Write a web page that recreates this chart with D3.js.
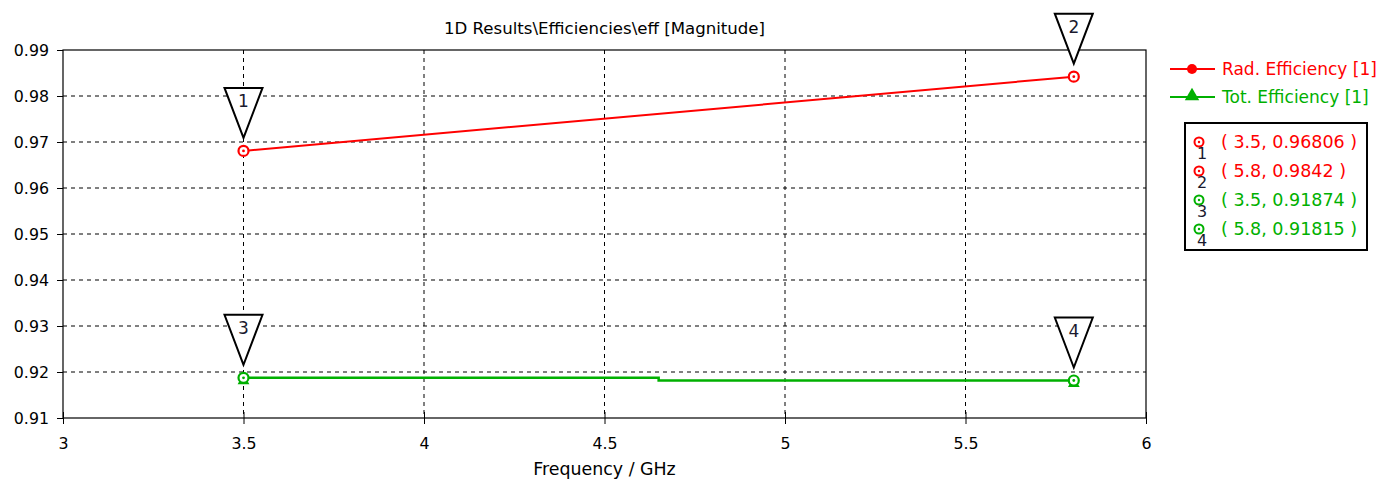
<!DOCTYPE html>
<html>
<head>
<meta charset="utf-8">
<script src="https://cdn.jsdelivr.net/npm/d3@7"></script>
<style>
  body { margin: 0; background: #fff; }
  text { font-family: "DejaVu Sans", sans-serif; }
</style>
</head>
<body>
<svg id="chart"></svg>
<script>
// data
const radFreq = [3.5, 5.8];
const radEff = [0.96806, 0.9842];
const totFreq = [3.5, 4.65, 4.65, 5.8];
const totEff = [0.91874, 0.91874, 0.91815, 0.91815];
const seriesNames = ["Rad. Efficiency [1]", "Tot. Efficiency [1]"];
const seriesColors = ["#ff0000", "#00b000"];
const markerIds = [1, 2, 3, 4];
const markerFreq = [3.5, 5.8, 3.5, 5.8];
const markerVals = [0.96806, 0.9842, 0.91874, 0.91815];
const markerLabels = ["( 3.5, 0.96806 )", "( 5.8, 0.9842 )", "( 3.5, 0.91874 )", "( 5.8, 0.91815 )"];
const markerColors = ["#ff0000", "#ff0000", "#00b000", "#00b000"];
const xTicks = [3, 3.5, 4, 4.5, 5, 5.5, 6];
const yTicks = [0.91, 0.92, 0.93, 0.94, 0.95, 0.96, 0.97, 0.98, 0.99];

const W = 1393, H = 479;
const margin = {top: 50, right: 247, bottom: 61, left: 63};
const width = W - margin.left - margin.right;
const height = H - margin.top - margin.bottom;

const svg = d3.select("#chart").attr("width", W).attr("height", H);
const g = svg.append("g").attr("transform", "translate(" + margin.left + "," + margin.top + ")");

const x = d3.scaleLinear().domain([3, 6]).range([0, width]);
const y = d3.scaleLinear().domain([0.91, 0.99]).range([height, 0]);

// grid
g.append("g").selectAll("line")
  .data(xTicks.slice(1, -1)).enter().append("line")
  .attr("x1", d => x(d)).attr("x2", d => x(d))
  .attr("y1", 0).attr("y2", height)
  .attr("stroke", "#000").attr("stroke-dasharray", "4,4").attr("stroke-width", 1);
g.append("g").selectAll("line")
  .data(yTicks.slice(1, -1)).enter().append("line")
  .attr("x1", 0).attr("x2", width)
  .attr("y1", d => y(d)).attr("y2", d => y(d))
  .attr("stroke", "#000").attr("stroke-dasharray", "4,4").attr("stroke-width", 1);

// frame
g.append("rect").attr("x", 0).attr("y", 0).attr("width", width).attr("height", height)
  .attr("fill", "none").attr("stroke", "#000").attr("stroke-width", 1.2);

// axes
const xAxis = g.append("g").attr("transform", "translate(0," + height + ")")
  .call(d3.axisBottom(x).tickValues(xTicks).tickFormat(d3.format("")).tickSize(6).tickPadding(14));
const yAxis = g.append("g")
  .call(d3.axisLeft(y).tickValues(yTicks).tickFormat(d3.format(".2f")).tickSize(6).tickPadding(8));
[xAxis, yAxis].forEach(a => {
  a.select(".domain").remove();
  a.selectAll("text").attr("font-size", 15.8).attr("fill", "#000")
    .style("font-family", '"DejaVu Sans", sans-serif');
});
xAxis.selectAll(".tick line").attr("y1", -6).attr("y2", 6);
yAxis.selectAll(".tick line").attr("x1", -6).attr("x2", 0);

// title & axis label
svg.append("text").attr("x", margin.left + width / 2).attr("y", 34)
  .attr("text-anchor", "middle").attr("font-size", 16.6).attr("fill", "#000")
  .text("1D Results\\Efficiencies\\eff [Magnitude]");
svg.append("text").attr("x", margin.left + width / 2).attr("y", 475)
  .attr("text-anchor", "middle").attr("font-size", 17.4).attr("fill", "#000")
  .text("Frequency / GHz");

// series
const line = d3.line().x(d => x(d[0])).y(d => y(d[1]));
g.append("path").datum(radFreq.map((f, i) => [f, radEff[i]]))
  .attr("d", line).attr("fill", "none").attr("stroke", seriesColors[0]).attr("stroke-width", 2);
g.append("path").datum(totFreq.map((f, i) => [f, totEff[i]]))
  .attr("d", line).attr("fill", "none").attr("stroke", seriesColors[1]).attr("stroke-width", 2.5);

// triangle symbols of Tot. Efficiency at its ends
const triSym = d3.symbol().type(d3.symbolTriangle).size(60);
g.selectAll(".tri").data([0, totFreq.length - 1]).enter().append("path")
  .attr("transform", i => "translate(" + x(totFreq[i]) + "," + (y(totEff[i]) + 3) + ")")
  .attr("d", triSym).attr("fill", seriesColors[1]);

// markers on curves
const mk = g.selectAll(".mk").data(markerIds).enter().append("g")
  .attr("transform", (d, i) => "translate(" + x(markerFreq[i]) + "," + y(markerVals[i]) + ")");
mk.append("circle").attr("r", 5).attr("fill", "#fff")
  .attr("stroke", (d, i) => markerColors[i]).attr("stroke-width", 2.2);
mk.append("circle").attr("r", 1.4).attr("fill", (d, i) => markerColors[i]);

// marker pointer triangles
const tri = mk.append("g").attr("transform", "translate(0,-13)");
tri.append("path").attr("d", "M0,0 L-19,-50 L19,-50 Z")
  .attr("fill", "#fff").attr("stroke", "#000").attr("stroke-width", 2).attr("stroke-linejoin", "miter");
tri.append("text").attr("x", 0).attr("y", -31).attr("text-anchor", "middle")
  .attr("font-size", 17).attr("fill", "#1a1a2e").text(d => d);

// legend
const lg = svg.append("g").attr("transform", "translate(1170,0)");
seriesNames.forEach((name, i) => {
  const yy = 69 + i * 28;
  lg.append("line").attr("x1", 0).attr("x2", 45).attr("y1", yy).attr("y2", yy)
    .attr("stroke", seriesColors[i]).attr("stroke-width", 2);
  if (i === 0) {
    lg.append("circle").attr("cx", 22).attr("cy", yy).attr("r", 5).attr("fill", seriesColors[i]);
  } else {
    lg.append("path").attr("transform", "translate(22," + (yy - 1) + ")")
      .attr("d", d3.symbol().type(d3.symbolTriangle).size(90)).attr("fill", seriesColors[i]);
  }
  lg.append("text").attr("x", 52).attr("y", yy + 6).attr("font-size", 17).attr("fill", seriesColors[i]).text(name);
});

// marker value box
const mb = svg.append("g").attr("transform", "translate(1185,123)");
mb.append("rect").attr("width", 182).attr("height", 127)
  .attr("fill", "#fff").attr("stroke", "#000").attr("stroke-width", 2);
markerIds.forEach((id, i) => {
  const yy = 19 + i * 29;
  mb.append("circle").attr("cx", 14).attr("cy", yy).attr("r", 4.5).attr("fill", "none")
    .attr("stroke", markerColors[i]).attr("stroke-width", 2);
  mb.append("circle").attr("cx", 14).attr("cy", yy).attr("r", 1.2).attr("fill", markerColors[i]);
  mb.append("text").attr("x", 12).attr("y", yy + 17).attr("font-size", 16).attr("fill", "#1a1a2e").text(id);
  mb.append("text").attr("x", 36).attr("y", yy + 6).attr("font-size", 17.5)
    .attr("fill", markerColors[i]).text(markerLabels[i]);
});
</script>
</body>
</html>
